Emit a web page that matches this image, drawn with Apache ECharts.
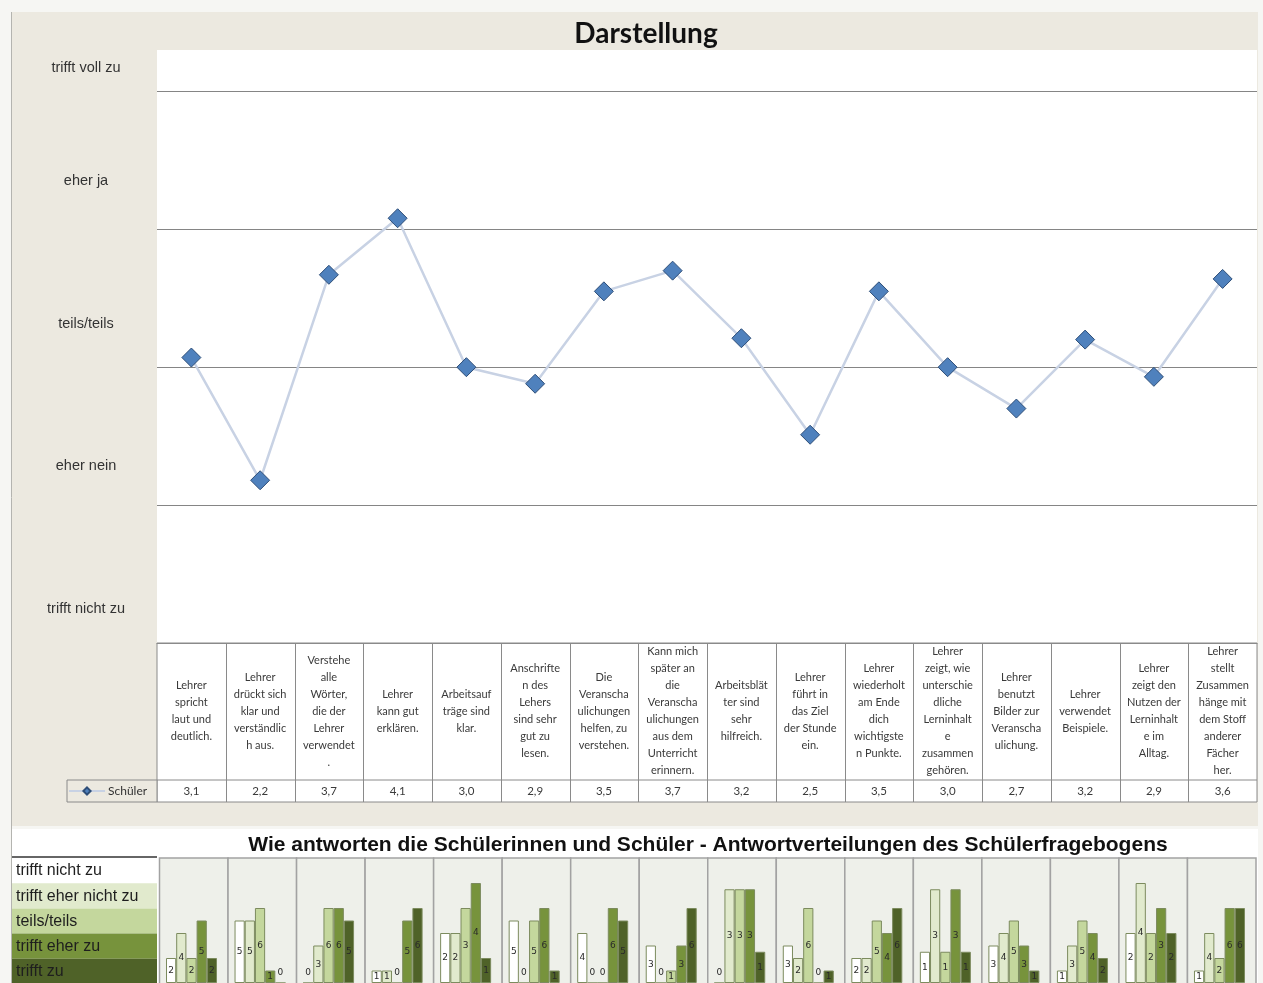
<!DOCTYPE html>
<html><head><meta charset="utf-8">
<script src="https://cdn.jsdelivr.net/npm/echarts@6/dist/echarts.min.js"></script>
<style>html,body{margin:0;padding:0;background:#F6F6F3}#c{width:1263px;height:983px}</style>
</head><body><div id="c"></div>
<script>
// ---------- data ----------
const categories = [
  "Lehrer\nspricht\nlaut und\ndeutlich.",
  "Lehrer\ndrückt sich\nklar und\nverständlic\nh aus.",
  "Verstehe\nalle\nWörter,\ndie der\nLehrer\nverwendet\n.",
  "Lehrer\nkann gut\nerklären.",
  "Arbeitsauf\nträge sind\nklar.",
  "Anschrifte\nn des\nLehers\nsind sehr\ngut zu\nlesen.",
  "Die\nVeranscha\nulichungen\nhelfen, zu\nverstehen.",
  "Kann mich\nspäter an\ndie\nVeranscha\nulichungen\naus dem\nUnterricht\nerinnern.",
  "Arbeitsblät\nter sind\nsehr\nhilfreich.",
  "Lehrer\nführt in\ndas Ziel\nder Stunde\nein.",
  "Lehrer\nwiederholt\nam Ende\ndich\nwichtigste\nn Punkte.",
  "Lehrer\nzeigt, wie\nunterschie\ndliche\nLerninhalt\ne\nzusammen\ngehören.",
  "Lehrer\nbenutzt\nBilder zur\nVeranscha\nulichung.",
  "Lehrer\nverwendet\nBeispiele.",
  "Lehrer\nzeigt den\nNutzen der\nLerninhalt\ne im\nAlltag.",
  "Lehrer\nstellt\nZusammen\nhänge mit\ndem Stoff\nanderer\nFächer\nher."
];
const seriesName = "Schüler";
const meanValues = [3.07, 2.18, 3.67, 4.08, 3.0, 2.88, 3.55, 3.70, 3.21, 2.51, 3.55, 3.0, 2.70, 3.2, 2.93, 3.64];
const meanLabels = ["3,1","2,2","3,7","4,1","3,0","2,9","3,5","3,7","3,2","2,5","3,5","3,0","2,7","3,2","2,9","3,6"];
const scaleLabels = ["trifft nicht zu", "eher nein", "teils/teils", "eher ja", "trifft voll zu"];
const answerLabels = ["trifft nicht zu", "trifft eher nicht zu", "teils/teils", "trifft eher zu", "trifft zu"];
const answerCounts = [
  [2,4,2,5,2],[5,5,6,1,0],[0,3,6,6,5],[1,1,0,5,6],
  [2,2,3,4,1],[5,0,5,6,1],[4,0,0,6,5],[3,0,1,3,6],
  [0,3,3,3,1],[3,2,6,0,1],[2,2,5,4,6],[1,3,1,3,1],
  [3,4,5,3,1],[1,3,5,4,2],[2,4,2,3,2],[1,4,2,6,6]
];
const panelAxisMax = [10,10,10,10,5,10,10,10,4,10,10,4,10,10,5,10];
const mainTitle = "Darstellung";
const bottomTitle = "Wie antworten die Schülerinnen und Schüler - Antwortverteilungen des Schülerfragebogens";

// ---------- layout / style ----------
const answerColors = ["#FFFFFF", "#E1EACD", "#C4D79D", "#77933C", "#4F6228"];
const labelPos = [1.25, 2.28, 3.31, 4.35, 5.17];
const plotL = 157, plotT = 50, plotW = 1100, plotH = 593;
const colW = plotW / categories.length;
const tableBottom = 802, valueRowTop = 780;
const panelL = 159.5, panelW = (1256 - 159.5) / answerCounts.length, panelT = 858;
const lineCol = "#8A8A8A";

const graphics = [];
graphics.push({type:'rect', silent:true, z:-10, shape:{x:12,y:12,width:1246,height:814}, style:{fill:'#ECE9E0'}});
graphics.push({type:'rect', silent:true, z:-10, shape:{x:12,y:829,width:1246,height:160}, style:{fill:'#FFFFFF'}});
graphics.push({type:'rect', silent:true, z:-9, shape:{x:plotL,y:plotT,width:plotW,height:plotH}, style:{fill:'#FFFFFF'}});
graphics.push({type:'line', silent:true, z:-8, shape:{x1:11.5,y1:12,x2:11.5,y2:983}, style:{stroke:'#B4B4B0',lineWidth:1}});
graphics.push({type:'text', silent:true, style:{text:mainTitle, x:646, y:34, align:'center', verticalAlign:'middle', font:'bold 28px Lato', fill:'#111'}});
graphics.push({type:'text', silent:true, style:{text:bottomTitle, x:708, y:845, align:'center', verticalAlign:'middle', font:'bold 21px "Liberation Sans", Arial', fill:'#111'}});
graphics.push({type:'rect', silent:true, z:-8, shape:{x:plotL,y:plotT+plotH,width:plotW,height:tableBottom-plotT-plotH}, style:{fill:'#FFFFFF', stroke:lineCol, lineWidth:1}});
graphics.push({type:'rect', silent:true, z:-8, shape:{x:67,y:valueRowTop,width:plotL-67,height:tableBottom-valueRowTop}, style:{fill:'#ECE9E0', stroke:lineCol, lineWidth:1}});
graphics.push({type:'line', silent:true, shape:{x1:plotL,y1:valueRowTop,x2:plotL+plotW,y2:valueRowTop}, style:{stroke:lineCol,lineWidth:1}});
for (let i = 1; i < categories.length; i++) {
  const x = Math.round(plotL + i * colW) + 0.5;
  graphics.push({type:'line', silent:true, shape:{x1:x,y1:plotT+plotH,x2:x,y2:tableBottom}, style:{stroke:lineCol,lineWidth:1}});
}
graphics.push({type:'line', silent:true, shape:{x1:12,y1:857,x2:157,y2:857}, style:{stroke:'#666',lineWidth:2}});
answerLabels.forEach((t, k) => {
  graphics.push({type:'rect', silent:true, shape:{x:12,y:858+k*25.2,width:145,height:25.2}, style:{fill:answerColors[k]}});
  graphics.push({type:'text', silent:true, style:{text:t, x:16, y:858+k*25.2+13, verticalAlign:'middle', font:'16px "Liberation Sans", Arial', fill:'#1E1E1E'}});
});
answerCounts.forEach((c, i) => {
  graphics.push({type:'rect', silent:true, z:-5, shape:{x:panelL+i*panelW,y:panelT,width:panelW,height:140}, style:{fill:'#EEF0EA', stroke:'#A2A2A2', lineWidth:1.5}});
});

// ---------- option ----------
const grids = [{left:plotL, top:plotT, width:plotW, height:plotH}];
const xAxes = [
  {type:'category', gridIndex:0, data:categories, boundaryGap:true,
   axisLine:{show:true, lineStyle:{color:lineCol}}, axisTick:{show:false},
   axisLabel:{interval:0, margin:68, verticalAlign:'middle', lineHeight:17, fontFamily:'Lato', fontSize:11, color:'#3A3A3A', hideOverlap:false}},
  {type:'category', gridIndex:0, position:'bottom', data:meanLabels, boundaryGap:true,
   axisLine:{show:false}, axisTick:{show:false},
   axisLabel:{interval:0, margin:148, verticalAlign:'middle', fontFamily:'Lato', fontSize:11.5, color:'#3A3A3A'}}
];
const yAxes = [
  {type:'value', gridIndex:0, min:1, max:5.3, interval:1,
   axisLine:{show:false}, axisTick:{show:false},
   splitLine:{show:true, showMaxLine:false, lineStyle:{color:'#858585', width:1}},
   axisLabel:{customValues:labelPos, margin:71, align:'center', verticalAlign:'middle',
     fontFamily:'"Liberation Sans",Arial', fontSize:14.5, color:'#333',
     formatter:(v)=>{const k=labelPos.findIndex(p=>Math.abs(p-v)<1e-6); return k>=0?scaleLabels[k]:'';}}}
];
const series = [{
  name:seriesName, type:'line', xAxisIndex:0, yAxisIndex:0, data:meanValues,
  symbol:'diamond', symbolSize:19,
  lineStyle:{color:'#C8D2E4', width:2.5},
  itemStyle:{color:'#4F81BD', borderColor:'#2E4E78', borderWidth:1},
  z:5
}];

answerCounts.forEach((counts, i) => {
  grids.push({left:panelL + i*panelW + 6.5, top:panelT, width:51, height:127});
  xAxes.push({type:'category', gridIndex:i+1, data:answerLabels, show:false});
  yAxes.push({type:'value', gridIndex:i+1, min:0, max:panelAxisMax[i], show:false, splitLine:{show:false}});
  series.push({
    type:'bar', xAxisIndex:i+2, yAxisIndex:i+1, barCategoryGap:'0%',
    data: counts.map((v, j) => ({
      value:v,
      itemStyle:{color:answerColors[j]},
      label: v === 0 ? {position:'insideBottom', distance:6} : undefined
    })),
    itemStyle:{borderColor:'#7C8B5E', borderWidth:1},
    label:{show:true, position:'inside', fontSize:9, fontFamily:'"DejaVu Sans"', color:'#2A2A2A'},
    silent:true
  });
});

const chart = echarts.init(document.getElementById('c'), null, {renderer:'canvas'});
chart.setOption({
  animation:false,
  backgroundColor:'transparent',
  grid:grids, xAxis:xAxes, yAxis:yAxes, series:series,
  legend:{data:[seriesName], left:68, top:785, itemWidth:36, itemHeight:9, itemGap:0, padding:[0,0,0,0], selectedMode:false,
          textStyle:{fontFamily:'Lato', fontSize:12, color:'#333', padding:[0,0,0,-2]}},
  graphic:{elements:graphics}
});
</script></body></html>
